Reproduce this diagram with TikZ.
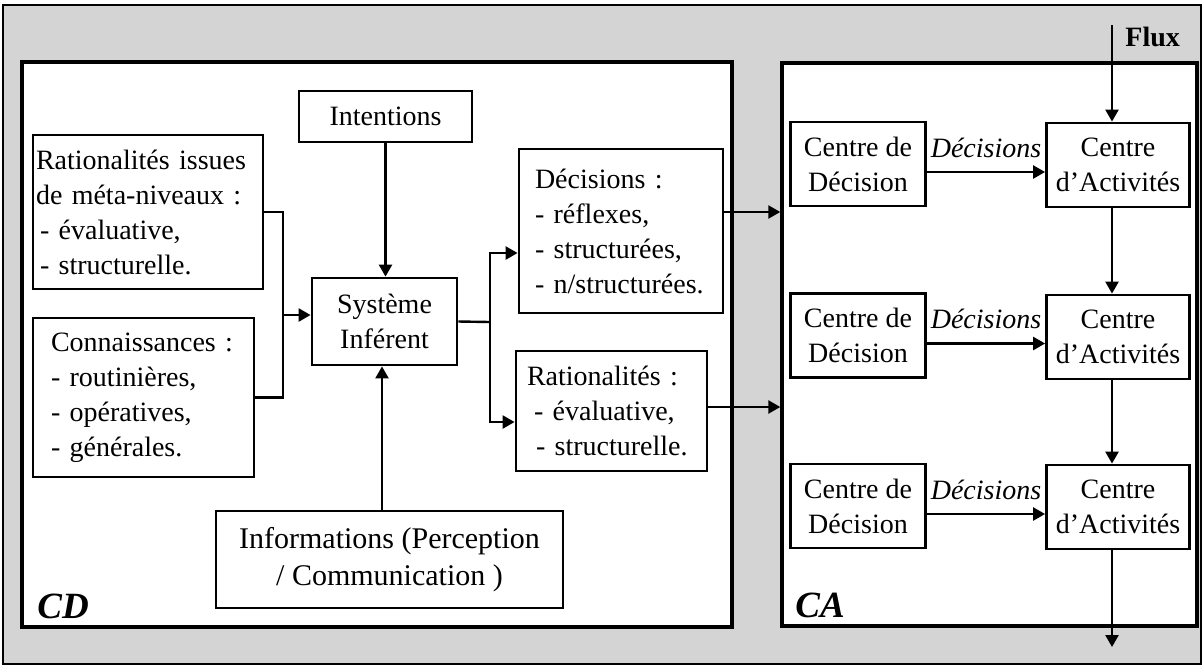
\documentclass[tikz,border=0pt]{standalone}
\usepackage{fontspec}
\setmainfont{Liberation Serif}
\usetikzlibrary{arrows.meta,calc}
\begin{document}
\begin{tikzpicture}[x=0.5pt,y=-0.5pt,
  bx/.style={draw, line width=1.4pt, fill=white, inner sep=0pt, font=\fontsize{14}{17.5}\selectfont},
  framebox/.style={draw, line width=1.7pt, fill=white, inner sep=0pt},
  arr/.style={line width=1.2pt, -{Triangle[length=6pt,width=6.5pt]}},
  ln/.style={line width=1.2pt},
  declab/.style={inner sep=0pt, anchor=base, yshift=7.5pt, font=\fontsize{14}{17}\selectfont\itshape},
  biglab/.style={anchor=base west, inner sep=0pt, font=\fontsize{18.5}{20}\selectfont\bfseries\itshape}]
\useasboundingbox (0,0) rectangle (1204,666);
\fill[black!17] (3,5) rectangle (1201,664);
\draw[line width=1.3pt] (3,5) rectangle (1201,664);

% main frames
\node[framebox, minimum width=355pt, minimum height=282.5pt] (cd) at (377,344.5) {};
\node[framebox, minimum width=207.5pt, minimum height=281.5pt] (ca) at (989.5,344.5) {};
\node[biglab] (cdlab) at (37,618) {CD};
\node[biglab] (calab) at (795,617) {CA};

% CD content
\node[bx, minimum width=86.5pt, minimum height=25.5pt] (int) at (385.5,116.5) {Intentions};
\node[bx, minimum width=115pt, minimum height=77pt, text width=112pt, align=left] (ratiss) at (148,212)
  {\makebox[112pt][s]{Rationalités issues}\\de méta-niveaux :\\\hspace*{2pt}- évaluative,\\\hspace*{2pt}- structurelle.};
\node[bx, minimum width=110.5pt, minimum height=79.5pt, text width=92.5pt, align=left] (conn) at (143.5,397.5)
  {Connaissances :\\- routinières,\\- opératives,\\- générales.};
\node[bx, minimum width=72.5pt, minimum height=43.5pt, align=center] (sys) at (384.5,321.5) {Système\\Inférent};
\node[bx, minimum width=102pt, minimum height=82pt, text width=86pt, align=left] (dec) at (621,231)
  {Décisions :\\- réflexes,\\- structurées,\\- n/structurées.};
\node[bx, minimum width=95.5pt, minimum height=60pt, text width=84.5pt, align=left] (rat) at (611.5,411)
  {Rationalités :\\\hspace*{3.5pt}- évaluative,\\\hspace*{4.5pt}- structurelle.};
\node[bx, minimum width=173.5pt, minimum height=48.5pt, align=center, font=\fontsize{15}{18.8}\selectfont] (info) at (389.5,559.5)
  {Informations (Perception\\/ Communication )};

% CA content
\node[bx, minimum width=67.5pt, minimum height=42pt, align=center] (cdd1) at (858,164) {Centre de\\Décision};
\node[bx, minimum width=71.5pt, minimum height=42pt, align=center] (cda1) at (1118,165) {Centre\\d’Activités};
\node[bx, minimum width=67.5pt, minimum height=42pt, align=center] (cdd2) at (858,335.5) {Centre de\\Décision};
\node[bx, minimum width=71.5pt, minimum height=42pt, align=center] (cda2) at (1118,337) {Centre\\d’Activités};
\node[bx, minimum width=67.5pt, minimum height=42pt, align=center] (cdd3) at (858,506) {Centre de\\Décision};
\node[bx, minimum width=71.5pt, minimum height=42pt, align=center] (cda3) at (1118,507) {Centre\\d’Activités};

\node[anchor=base west, inner sep=0pt, font=\fontsize{14}{17}\selectfont\bfseries] (fluxlab) at (1125,46) {Flux};

% connectors in CD
\coordinate (jl) at (283,315);
\coordinate (jr) at (490,322);
\draw[arr] (int.south) -- (int.south |- sys.north);
\draw[ln] (ratiss.east) -| (jl);
\draw[ln] (conn.east) -| (jl);
\draw[arr] (jl) -- (jl -| sys.west);
\draw[arr] ([xshift=-3.75pt]info.north) -- ([xshift=-3.75pt]info.north |- sys.south);
\draw[ln] (sys.east) -- (jr);
\draw[arr] (jr) |- ([yshift=-11pt]dec.west);
\draw[arr] (jr) |- ([yshift=-5.5pt]rat.west);
\draw[arr] ([yshift=9.5pt]dec.east) -- ([yshift=9.5pt]dec.east -| ca.west);
\draw[arr] ([yshift=2pt]rat.east) -- ([yshift=2pt]rat.east -| ca.west);

% connectors in CA
\draw[arr] ([yshift=-4pt]cdd1.east) -- ([yshift=-4pt]cdd1.east -| cda1.west) node[midway, declab] {Décisions};
\draw[arr] ([yshift=-4pt]cdd2.east) -- ([yshift=-4pt]cdd2.east -| cda2.west) node[midway, declab] {Décisions};
\draw[arr] ([yshift=-4pt]cdd3.east) -- ([yshift=-4pt]cdd3.east -| cda3.west) node[midway, declab] {Décisions};
\coordinate (fin) at (1112,25);
\coordinate (fout) at (1112,647);
\draw[arr] (fin) -- (fin |- cda1.north);
\draw[arr] ([xshift=-3pt]cda1.south) -- ([xshift=-3pt]cda2.north);
\draw[arr] ([xshift=-3pt]cda2.south) -- ([xshift=-3pt]cda3.north);
\draw[arr] ([xshift=-3pt]cda3.south) -- (fout);
\end{tikzpicture}
\end{document}
